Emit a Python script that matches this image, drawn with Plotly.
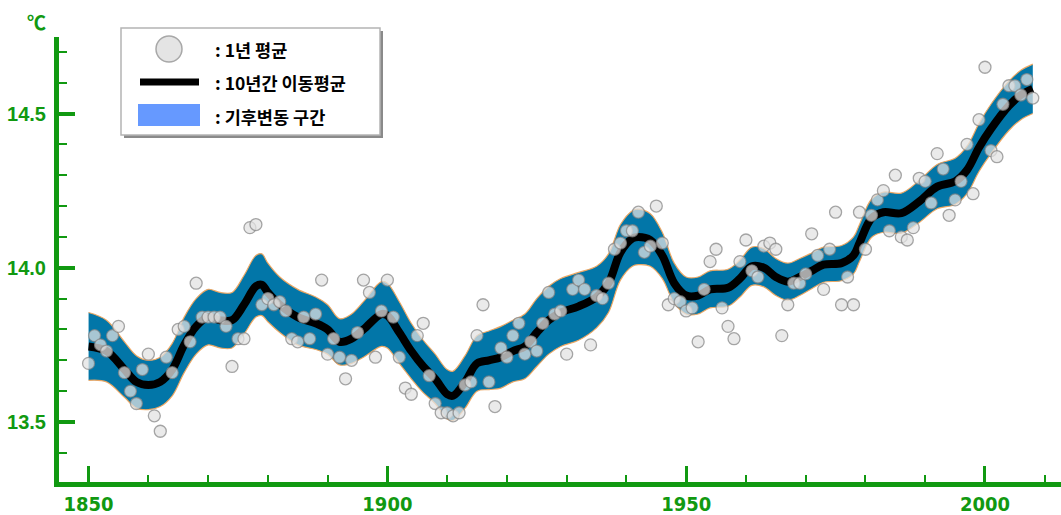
import plotly.graph_objects as go

# ---- annual global mean temperature (°C) ----
years = list(range(1850, 2009))
annual_mean = [
    13.69, 13.78, 13.75, 13.73, 13.78, 13.81, 13.66, 13.60, 13.56, 13.67,
    13.72, 13.52, 13.47, 13.71, 13.66, 13.80, 13.81, 13.76, 13.95, 13.84,
    13.84, 13.84, 13.84, 13.81, 13.68, 13.77, 13.77, 14.13, 14.14, 13.88,
    13.90, 13.88, 13.89, 13.86, 13.77, 13.76, 13.84, 13.77, 13.85, 13.96,
    13.72, 13.77, 13.71, 13.64, 13.70, 13.79, 13.96, 13.92, 13.71, 13.86,
    13.96, 13.84, 13.71, 13.61, 13.59, 13.78, 13.82, 13.65, 13.56, 13.53,
    13.53, 13.52, 13.53, 13.62, 13.63, 13.78, 13.88, 13.63, 13.55, 13.74,
    13.71, 13.78, 13.82, 13.72, 13.76, 13.73, 13.82, 13.92, 13.85, 13.86,
    13.72, 13.93, 13.96, 13.93, 13.75, 13.91, 13.90, 13.95, 14.06, 14.08,
    14.12, 14.12, 14.18, 14.05, 14.07, 14.20, 14.08, 13.88, 13.90, 13.89,
    13.86, 13.87, 13.76, 13.93, 14.02, 14.06, 13.87, 13.81, 13.77, 14.02,
    14.09, 13.99, 13.97, 14.07, 14.08, 14.06, 13.78, 13.88, 13.95, 13.95,
    13.98, 14.11, 14.04, 13.93, 14.06, 14.18, 13.88, 13.97, 13.88, 14.18,
    14.06, 14.17, 14.22, 14.25, 14.12, 14.30, 14.10, 14.09, 14.13, 14.29,
    14.28, 14.21, 14.37, 14.32, 14.17, 14.22, 14.28, 14.40, 14.24, 14.48,
    14.65, 14.38, 14.36, 14.53, 14.59, 14.59, 14.56, 14.61, 14.55,
]

# ---- 10-year moving average and the half-width of the variability band ----
ma_years = [
    1850, 1853, 1856, 1858, 1860, 1862, 1864, 1866, 1868, 1870, 1872, 1874,
    1876, 1878, 1879, 1880, 1882, 1885, 1888, 1890, 1892, 1894, 1896, 1899,
    1900, 1902, 1904, 1906, 1908, 1910, 1911, 1913, 1915, 1917, 1919, 1921,
    1923, 1925, 1927, 1929, 1932, 1935, 1937, 1939, 1941, 1942, 1944, 1946,
    1948, 1950, 1952, 1954, 1957, 1959, 1961, 1963, 1965, 1967, 1969, 1971,
    1973, 1976, 1978, 1979, 1981, 1983, 1986, 1989, 1992, 1995, 1997, 1999,
    2001, 2004, 2006, 2008,
]
ma_values = [
    13.745, 13.73, 13.67, 13.63, 13.62, 13.63, 13.67, 13.75, 13.81, 13.84, 13.83, 13.83,
    13.88, 13.94, 13.945, 13.92, 13.88, 13.84, 13.82, 13.80, 13.76, 13.77, 13.80, 13.85,
    13.845, 13.79, 13.73, 13.68, 13.64, 13.59, 13.585, 13.63, 13.69, 13.70, 13.71, 13.73,
    13.745, 13.79, 13.83, 13.855, 13.875, 13.905, 13.95, 14.05, 14.095, 14.10, 14.09, 14.04,
    13.95, 13.91, 13.91, 13.93, 13.935, 13.965, 14.005, 14.00, 13.97, 13.955, 13.97, 13.99,
    14.01, 14.015, 14.04, 14.08, 14.16, 14.18, 14.177, 14.215, 14.263, 14.28, 14.317, 14.39,
    14.45, 14.525, 14.56, 14.58,
]
band_half = [
    0.11, 0.10, 0.09, 0.085, 0.08, 0.08, 0.085, 0.09, 0.09, 0.09, 0.09, 0.09,
    0.095, 0.10, 0.10, 0.095, 0.09, 0.09, 0.085, 0.08, 0.075, 0.08, 0.09, 0.105,
    0.105, 0.10, 0.09, 0.085, 0.08, 0.08, 0.08, 0.085, 0.09, 0.095, 0.10, 0.10,
    0.105, 0.11, 0.11, 0.11, 0.11, 0.10, 0.095, 0.09, 0.09, 0.09, 0.085, 0.075,
    0.065, 0.06, 0.06, 0.06, 0.06, 0.06, 0.062, 0.062, 0.06, 0.06, 0.06, 0.058,
    0.057, 0.057, 0.06, 0.06, 0.062, 0.065, 0.065, 0.068, 0.072, 0.075, 0.077, 0.078,
    0.08, 0.08, 0.08, 0.08,
]

# ---- text ----
y_ticks = [13.5, 14.0, 14.5]
x_ticks = [1850, 1900, 1950, 2000]
legend_labels = [": 1년 평균", ": 10년간 이동평균", ": 기후변동 구간"]
unit_label = "℃"

GREEN = "#119911"
BAND = "#0276a8"
BAND_EDGE = "rgba(238,165,95,0.95)"

W, H = 1061, 515
L, R, T, B = 59, 0, 37, 33
PW, PH = W - L - R, H - T - B


def px(x):
    return (x - L) / PW


def py(y):
    return (H - B - y) / PH


band_upper = [m + h for m, h in zip(ma_values, band_half)]
band_lower = [m - h for m, h in zip(ma_values, band_half)]

fig = go.Figure()

fig.add_trace(go.Scatter(
    x=ma_years, y=band_upper, mode="lines",
    line=dict(color=BAND_EDGE, width=1.2, shape="spline", smoothing=1.0),
    hoverinfo="skip", showlegend=False,
))
fig.add_trace(go.Scatter(
    x=ma_years, y=band_lower, mode="lines", fill="tonexty", fillcolor=BAND,
    line=dict(color=BAND_EDGE, width=1.2, shape="spline", smoothing=1.0),
    hoverinfo="skip", showlegend=False,
))
fig.add_trace(go.Scatter(
    x=ma_years, y=ma_values, mode="lines",
    line=dict(color="black", width=8, shape="spline", smoothing=1.0),
    showlegend=False,
))
fig.add_trace(go.Scatter(
    x=years, y=annual_mean, mode="markers",
    marker=dict(size=12, color="rgba(226,226,226,0.74)",
                line=dict(color="rgba(130,130,130,0.7)", width=1.3)),
    showlegend=False,
))

fig.update_xaxes(
    range=[1845.05, 2012.72], tickmode="array", tickvals=x_ticks,
    ticks="inside", ticklen=16, tickwidth=3, tickcolor=GREEN,
    minor=dict(dtick=10, tick0=1850, ticks="inside", ticklen=7, tickwidth=1.5,
               tickcolor=GREEN),
    showline=True, linewidth=5, linecolor=GREEN, showgrid=False, zeroline=False,
    tickfont=dict(family="Liberation Sans Narrow, DejaVu Sans Condensed, Arial Narrow, Liberation Sans, sans-serif",
                  size=20, color=GREEN, weight="bold"),
)
fig.update_yaxes(
    range=[13.3055, 14.748], tickmode="array", tickvals=y_ticks, tickformat=".1f",
    ticks="inside", ticklen=16, tickwidth=4, tickcolor=GREEN,
    minor=dict(dtick=0.1, tick0=13.5, ticks="inside", ticklen=8, tickwidth=2,
               tickcolor=GREEN),
    showline=True, linewidth=5, linecolor=GREEN, showgrid=False, zeroline=False,
    tickfont=dict(family="Liberation Sans, Arial, sans-serif", size=20,
                  color=GREEN, weight="bold"),
    ticklabelstandoff=4,
)

shapes = [
    # legend shadow and frame
    dict(type="rect", xref="paper", yref="paper", x0=px(124), x1=px(383),
         y0=py(31), y1=py(138), fillcolor="#8a8a8a", line=dict(width=0)),
    dict(type="rect", xref="paper", yref="paper", x0=px(121), x1=px(380),
         y0=py(28), y1=py(135), fillcolor="white",
         line=dict(color="#b4b4b4", width=1.5)),
    # legend symbols
    dict(type="circle", xref="paper", yref="paper", x0=px(156), x1=px(182),
         y0=py(36), y1=py(62), fillcolor="#e4e4e4",
         line=dict(color="#a8a8a8", width=1.5)),
    dict(type="line", xref="paper", yref="paper", x0=px(140), x1=px(199),
         y0=py(82), y1=py(82), line=dict(color="black", width=7)),
    dict(type="rect", xref="paper", yref="paper", x0=px(138), x1=px(200),
         y0=py(104), y1=py(126), fillcolor="#6699ff", line=dict(width=0)),
]

annotations = [
    dict(xref="paper", yref="paper", x=px(213), y=py(yy), text=t,
         showarrow=False, xanchor="left", yanchor="middle",
         font=dict(family="Noto Sans CJK KR", size=17.5, color="black", weight="bold"))
    for t, yy in zip(legend_labels, [49, 82, 116])
]
annotations.append(dict(
    xref="paper", yref="paper", x=px(36), y=py(21), text=unit_label,
    showarrow=False, xanchor="center", yanchor="middle",
    font=dict(family="Noto Sans CJK KR", size=19, color=GREEN, weight="bold"),
))

fig.update_layout(
    width=W, height=H, margin=dict(l=L, r=R, t=T, b=B, pad=0),
    plot_bgcolor="white", paper_bgcolor="white",
    shapes=shapes, annotations=annotations, showlegend=False,
)

fig.write_html("out.html")
